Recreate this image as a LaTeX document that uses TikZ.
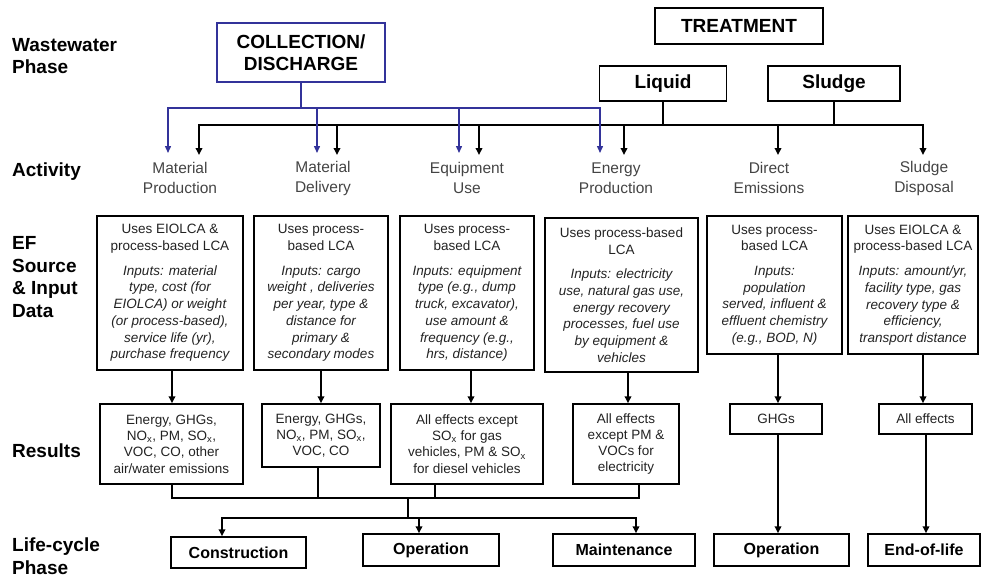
\documentclass[tikz,border=0pt]{standalone}
\usepackage{fontspec}
\setmainfont{Liberation Sans}
\usetikzlibrary{arrows.meta}
\definecolor{bluec}{HTML}{33339A}
\definecolor{txt}{HTML}{222222}
\definecolor{actc}{HTML}{444444}
\newcommand{\myit}{\itshape}
\begin{document}
\begin{tikzpicture}[x=1pt,y=-1pt,
  box/.style={draw, line width=1.5pt, inner sep=0pt, align=center, text=txt},
  efbox/.style={box, font=\fontsize{13.5}{16.7}\selectfont},
  resbox/.style={box, font=\fontsize{13.5}{16.3}\selectfont},
  topbox/.style={box, text=black, font=\bfseries\fontsize{19}{22}\selectfont},
  lcbox/.style={box, text=black, font=\bfseries\fontsize{16}{19}\selectfont},
  side/.style={anchor=west, align=left, inner sep=0pt, font=\bfseries\fontsize{19}{22.5}\selectfont},
  act/.style={align=center, inner sep=0pt, text=actc, font=\fontsize{15.5}{20}\selectfont},
  ln/.style={line width=2pt},
  tip/.tip={Triangle[length=7pt,width=6.5pt]},
  arr/.style={ln, -tip},
  arr2/.style={ln, tip-tip},
  bln/.style={draw=bluec, line width=1.4pt},
  btip/.tip={Triangle[length=7pt,width=6pt]},
  barr/.style={bln, -btip},
  barr2/.style={bln, btip-btip}
]
\useasboundingbox (0,0) rectangle (981,579);

% side labels
\node[side] (lw) at (12,56) {Wastewater\\Phase};
\node[side] (la) at (12,172) {Activity};
\node[side] (le) at (12,277) {EF\\Source\\\& Input\\Data};
\node[side] (lr) at (12,451) {Results};
\node[side] (ll) at (12,556) {Life-cycle\\Phase};

% top boxes
\node[topbox, draw=bluec, minimum width=168, minimum height=59] (coll) at (301,52.5) {COLLECTION/\\DISCHARGE};
\node[topbox, minimum width=168, minimum height=36] (treat) at (739,26) {TREATMENT};
\node[topbox, minimum width=127, minimum height=35] (liq) at (663,83.5) {Liquid};
\node[topbox, minimum width=132, minimum height=35] (slu) at (834,83.5) {Sludge};

% activities
\node[act] (a1) at (180,178) {Material\\Production};
\node[act] (a2) at (323,178) {Material\\Delivery};
\node[act] (a3) at (467,178) {Equipment\\Use};
\node[act] (a4) at (616,178) {Energy\\Production};
\node[act] (a5) at (769,178) {Direct\\Emissions};
\node[act] (a6) at (924,178) {Sludge\\Disposal};

% bus coordinates
\coordinate (bbus) at (0,108);
\coordinate (kbus) at (0,125);
\coordinate (bt1) at (168,153);
\coordinate (bt2) at (317,153);
\coordinate (bt3) at (459,153);
\coordinate (bt4) at (600,153);
\coordinate (kt1) at (199,155);
\coordinate (kt2) at (337,155);
\coordinate (kt3) at (479,155);
\coordinate (kt4) at (624,155);
\coordinate (kt5) at (778,155);
\coordinate (kt6) at (923,155);

% black connectors from treatment
\draw[ln] (liq.south) -- (liq.south |- kbus);
\draw[ln] (slu.south) -- (slu.south |- kbus);
\draw[arr2] (kt1) -- (kt1 |- kbus) -- (kt6 |- kbus) -- (kt6);
\draw[arr] (kt2 |- kbus) -- (kt2);
\draw[arr] (kt3 |- kbus) -- (kt3);
\draw[arr] (kt4 |- kbus) -- (kt4);
\draw[arr] (kt5 |- kbus) -- (kt5);

% blue connectors from collection
\draw[bln] (coll.south) -- (coll.south |- bbus);
\draw[barr2] (bt1) -- (bt1 |- bbus) -- (bt4 |- bbus) -- (bt4);
\draw[barr] (bt2 |- bbus) -- (bt2);
\draw[barr] (bt3 |- bbus) -- (bt3);

% EF boxes
\node[efbox, minimum width=146, minimum height=154] (ef1) at (170,293)
 {Uses EIOLCA \&\\process-based LCA\\[8pt]\myit Inputs: material\\\myit type, cost (for\\\myit EIOLCA) or weight\\\myit (or process-based),\\\myit service life (yr),\\\myit purchase frequency};
\node[efbox, minimum width=134, minimum height=154] (ef2) at (321,293)
 {Uses process-\\based LCA\\[8pt]\myit Inputs: cargo\\\myit weight , deliveries\\\myit per year, type \&\\\myit distance for\\\myit primary \&\\\myit secondary modes};
\node[efbox, minimum width=134, minimum height=154] (ef3) at (467,293)
 {Uses process-\\based LCA\\[8pt]\myit Inputs: equipment\\\myit type (e.g., dump\\\myit truck, excavator),\\\myit use amount \&\\\myit frequency (e.g.,\\\myit hrs, distance)};
\node[efbox, minimum width=153, minimum height=154] (ef4) at (621.5,295)
 {Uses process-based\\LCA\\[8pt]\myit Inputs: electricity\\\myit use, natural gas use,\\\myit energy recovery\\\myit processes, fuel use\\\myit by equipment \&\\\myit vehicles};
\node[efbox, minimum width=135, minimum height=138] (ef5) at (774.5,285)
 {Uses process-\\based LCA\\[8pt]\myit Inputs:\\\myit population\\\myit served, influent \&\\\myit effluent chemistry\\\myit (e.g., BOD, N)};
\node[efbox, minimum width=130, minimum height=138] (ef6) at (913,285)
 {Uses EIOLCA \&\\process-based LCA\\[8pt]\myit Inputs: amount/yr,\\\myit facility type, gas\\\myit recovery type \&\\\myit efficiency,\\\myit transport distance};

% results boxes
\node[resbox, minimum width=143, minimum height=80] (r1) at (171.5,444)
 {Energy, GHGs,\\NO\textsubscript{x}, PM, SO\textsubscript{x},\\VOC, CO, other\\air/water emissions};
\node[resbox, minimum width=118, minimum height=63] (r2) at (321,435.5)
 {Energy, GHGs,\\NO\textsubscript{x}, PM, SO\textsubscript{x},\\VOC, CO};
\node[resbox, minimum width=152, minimum height=80] (r3) at (467,444)
 {All effects except\\SO\textsubscript{x} for gas\\vehicles, PM \& SO\textsubscript{x}\\for diesel vehicles};
\node[resbox, minimum width=106, minimum height=80] (r4) at (626,444)
 {All effects\\except PM \&\\VOCs for\\electricity};
\node[resbox, minimum width=92, minimum height=30] (r5) at (776,419) {GHGs};
\node[resbox, minimum width=93, minimum height=30] (r6) at (925.5,419) {All effects};

% EF -> results
\coordinate (s1) at (172,0);
\coordinate (s2) at (321,0);
\coordinate (s3) at (471,0);
\coordinate (s4) at (628,0);
\coordinate (s5) at (778,0);
\coordinate (s6) at (923,0);
\draw[arr] (ef1.south -| s1) -- (r1.north -| s1);
\draw[arr] (ef2.south -| s2) -- (r2.north -| s2);
\draw[arr] (ef3.south -| s3) -- (r3.north -| s3);
\draw[arr] (ef4.south -| s4) -- (r4.north -| s4);
\draw[arr] (ef5.south -| s5) -- (r5.north -| s5);
\draw[arr] (ef6.south -| s6) -- (r6.north -| s6);

% life-cycle boxes
\node[lcbox, minimum width=135, minimum height=31] (cons) at (238.5,552.5) {Construction};
\node[lcbox, minimum width=136, minimum height=32] (op1) at (431,550) {Operation};
\node[lcbox, minimum width=142, minimum height=32] (maint) at (624,550) {Maintenance};
\node[lcbox, minimum width=135, minimum height=32] (op2) at (781.5,550) {Operation};
\node[lcbox, minimum width=112, minimum height=32] (eol) at (924,550) {End-of-life};

% results -> life-cycle
\coordinate (rb) at (0,498);
\coordinate (pb) at (0,518);
\coordinate (c1) at (172,0);
\coordinate (c2) at (318,0);
\coordinate (c3) at (435,0);
\coordinate (c4) at (639,0);
\coordinate (cm) at (408,0);
\coordinate (d1) at (222,0);
\coordinate (d2) at (419,0);
\coordinate (d3) at (636,0);
\coordinate (e6) at (926,0);
\draw[ln] (r1.south -| c1) -- (rb -| c1) -- (rb -| c4) -- (r4.south -| c4);
\draw[ln] (r2.south -| c2) -- (rb -| c2);
\draw[ln] (r3.south -| c3) -- (rb -| c3);
\draw[ln] (rb -| cm) -- (pb -| cm);
\draw[arr2] (cons.north -| d1) -- (pb -| d1) -- (pb -| d3) -- (maint.north -| d3);
\draw[arr] (pb -| d2) -- (op1.north -| d2);
\draw[arr] (r5.south -| s5) -- (op2.north -| s5);
\draw[arr] (r6.south -| e6) -- (eol.north -| e6);
\end{tikzpicture}
\end{document}
